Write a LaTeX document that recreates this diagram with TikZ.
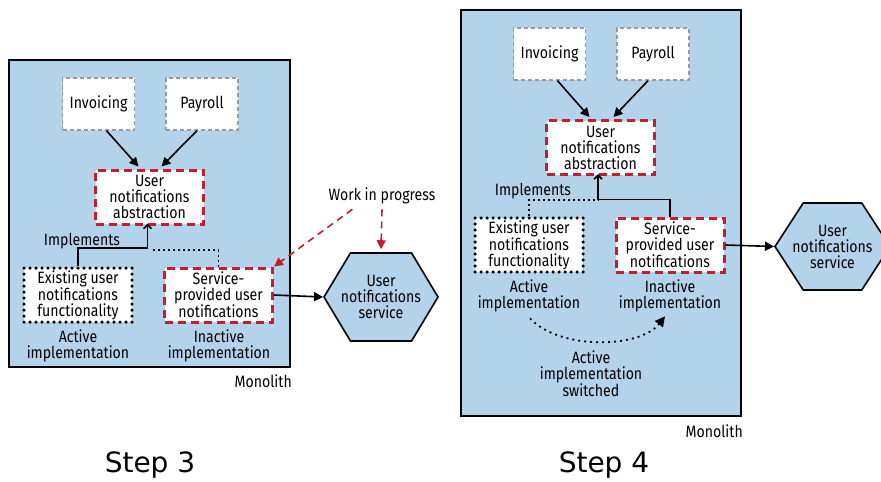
\documentclass[tikz,border=0pt]{standalone}
\usepackage{fontspec}
\setmainfont{Fira Sans}[FakeStretch=0.86]
\newfontfamily\stepfont{DejaVu Sans}
\usetikzlibrary{shapes.symbols,arrows.meta,calc}
\definecolor{monoblue}{HTML}{B3D3EA}
\definecolor{wipred}{HTML}{C41E2E}
\definecolor{bordergray}{HTML}{9A9A9A}

\tikzset{
  txt/.style={font=\fontsize{16.4}{16}\selectfont, align=center, inner sep=0pt},
  mono/.style={draw=black, line width=2pt, fill=monoblue, inner sep=0pt},
  svcbox/.style={txt, draw=bordergray, line width=1.4pt, dash pattern=on 4pt off 3pt, fill=white, minimum width=72pt, minimum height=52pt},
  absbox/.style={txt, draw=wipred, line width=3pt, dash pattern=on 8pt off 5pt, fill=white, minimum width=108pt, minimum height=54pt},
  oldbox/.style={txt, draw=black, line width=3.5pt, dash pattern=on 0pt off 6pt, line cap=round, fill=white, minimum width=108pt, minimum height=54pt},
  hexa/.style={draw=black, line width=1.6pt, fill=monoblue, inner sep=0pt, signal, signal to=west and east, signal pointer angle=118, minimum width=114pt, minimum height=88pt},
  call/.style={line width=1.6pt, -{Triangle[length=9pt,width=9pt]}},
  impl/.style={line width=1.6pt, -{Straight Barb[length=4pt,width=8pt]}},
  dotline/.style={line width=1.6pt, dash pattern=on 2pt off 3pt},
  curvedot/.style={line width=1.8pt, dash pattern=on 2pt off 4pt, -{Triangle[length=10pt,width=10pt]}},
  wip/.style={draw=wipred, line width=1.6pt, dash pattern=on 7pt off 5pt, -{Triangle[length=9pt,width=9pt]}},
  steplbl/.style={font=\stepfont\fontsize{28}{32}\selectfont, inner sep=0pt},
}

\begin{document}
\begin{tikzpicture}[x=1pt,y=-1pt]
\useasboundingbox (0,0) rectangle (881,482);

% ---------------- Step 3 ----------------
\node[mono, minimum width=281pt, minimum height=307pt] (mono3) at (149.5,213.5) {};
\node[txt, anchor=east] (monolbl3) at (292,381) {Monolith};

\node[svcbox] (inv3) at (98.5,104) {Invoicing};
\node[svcbox] (pay3) at (202,104) {Payroll};
\node[absbox] (abs3) at (149.5,197) {User\\notifications\\abstraction};
\node[oldbox] (ex3) at (78,295) {Existing user\\notifications\\functionality};
\node[absbox] (sp3) at (218.5,295) {Service-\\provided user\\notifications};
\node[hexa] (hex3) at (381,297) {};
\node[txt] (hex3txt) at (hex3.center) {User\\notifications\\service};

\node[txt] (impl3) at (82,241) {Implements};
\node[txt] (act3) at (78,346) {Active\\implementation};
\node[txt] (inact3) at (219,346) {Inactive\\implementation};
\node[txt] (wip3) at (382,196) {Work in progress};

\draw[call] ($(inv3.south)+(8,0)$) -- ($(abs3.north)+(-11,-2)$);
\draw[call] ($(pay3.south)+(-5,0)$) -- ($(abs3.north)+(12,-2)$);
\draw[impl] (ex3.north) -- ++(0,-18) -| ($(abs3.south)+(-2,-2)$);
\coordinate (d3) at (153,250);
\draw[dotline] (sp3.north) |- (d3);
\draw[call] (sp3.east) -- (hex3.west);
\draw[wip] ($(wip3.south west)+(24,5)$) -- (sp3.north east);
\draw[wip] ($(wip3.south)+(0,5)$) -- ($(hex3.north)+(0,-3)$);

\node[steplbl] (step3) at (150,465) {Step 3};

% ---------------- Step 4 ----------------
\node[mono, minimum width=280pt, minimum height=406pt] (mono4) at (601,213) {};
\node[txt, anchor=east] (monolbl4) at (743,431) {Monolith};

\node[svcbox] (inv4) at (549.5,54) {Invoicing};
\node[svcbox] (pay4) at (653,54) {Payroll};
\node[absbox] (abs4) at (600.5,147.5) {User\\notifications\\abstraction};
\node[oldbox] (ex4) at (529,245) {Existing user\\notifications\\functionality};
\node[absbox] (sp4) at (670,245) {Service-\\provided user\\notifications};
\node[hexa, signal pointer angle=114, minimum width=115pt, minimum height=87pt] (hex4) at (832.5,246.5) {};
\node[txt] (hex4txt) at (hex4.center) {User\\notifications\\service};

\node[txt] (impl4) at (533,191) {Implements};
\node[txt] (act4) at (529,296) {Active\\implementation};
\node[txt] (inact4) at (670,296) {Inactive\\implementation};
\node[txt] (sw4) at (591,374) {Active\\implementation\\switched};

\draw[call] ($(inv4.south)+(8,0)$) -- ($(abs4.north)+(-11,-2)$);
\draw[call] ($(pay4.south)+(-5,0)$) -- ($(abs4.north)+(13,-2)$);
\coordinate (d4) at (598,200);
\draw[dotline] (ex4.north) |- (d4);
\draw[impl] (sp4.north) -- ++(0,-17) -| ($(abs4.south)+(-2.5,-2)$);
\draw[call] (sp4.east) -- (hex4.west);
\draw[curvedot] ($(act4.south)+(1,6)$) .. controls +(30,32) and +(-25,32) .. ($(inact4.south)+(-5,4)$);

\node[steplbl] (step4) at (604,465) {Step 4};
\end{tikzpicture}
\end{document}
